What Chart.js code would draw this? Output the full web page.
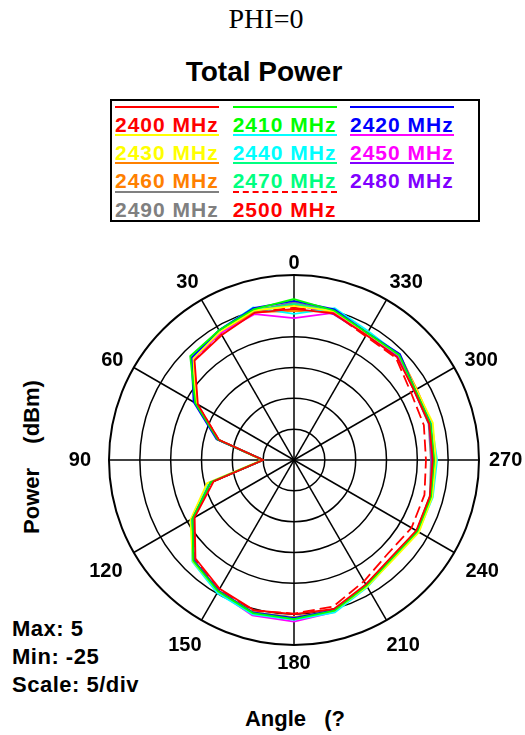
<!DOCTYPE html>
<html>
<head>
<meta charset="utf-8">
<script src="https://cdn.jsdelivr.net/npm/chart.js@4.4.0/dist/chart.umd.min.js"></script>
<style>
  html, body { margin: 0; padding: 0; background: #fff; }
  body { position: relative; width: 525px; height: 735px; overflow: hidden; font-family: "Liberation Sans", Arial, sans-serif; }
  .txt { position: absolute; white-space: pre; font-weight: bold; color: #000; }
  #phi { left: 266px; top: 5px; font: 28px/28px "Liberation Serif", "Times New Roman", serif; transform: translateX(-50%); position: absolute; }
  #title { left: 264px; top: 58px; font-size: 28px; line-height: 28px; transform: translateX(-50%); }
  #legend-box { position: absolute; left: 110px; top: 99px; width: 370px; height: 123px; border: 2px solid #000; box-sizing: border-box; }
  .leg { position: absolute; width: 104px; }
  .leg .line { height: 0; border-top: 2px solid; }
  .leg .lbl { position: absolute; left: 0; top: 8px; font-weight: bold; font-size: 21px; line-height: 21px; letter-spacing: 1px; white-space: pre; }
  #ylabel { left: 32px; top: 457px; font-size: 22px; line-height: 22px; word-spacing: 6px; transform: translate(-50%, -50%) rotate(-90deg); }
  #xlabel { left: 295px; top: 708px; font-size: 22px; line-height: 22px; word-spacing: 3px; transform: translateX(-50%); }
  .info { left: 12px; font-size: 22px; line-height: 22px; letter-spacing: 0.5px; }
  #polar { position: absolute; left: 34px; top: 249px; }
</style>
</head>
<body>
<div id="phi">PHI=0</div>
<div id="title" class="txt">Total Power</div>
<div id="legend-box"></div>
<div id="ylabel" class="txt">Power  (dBm)</div>
<div id="xlabel" class="txt">Angle  (?</div>
<div class="txt info" style="top:618px">Max: 5</div>
<div class="txt info" style="top:646px">Min: -25</div>
<div class="txt info" style="top:674px">Scale: 5/div</div>
<canvas id="polar" width="520" height="429"></canvas>

<script>
// angles in degrees, counter-clockwise from the top
const angles = [0, 15, 30, 45, 60, 75, 90, 105, 120, 135, 150, 165, 180, 195, 210, 225, 240, 255, 270, 285, 300, 315, 330, 345];

const freqLabels = ["2400 MHz", "2410 MHz", "2420 MHz", "2430 MHz", "2440 MHz", "2450 MHz", "2460 MHz", "2470 MHz", "2480 MHz", "2490 MHz", "2500 MHz"];
const colors = ["#ff0000", "#00ff00", "#0000ff", "#ffff00", "#00ffff", "#ff00ff", "#ff8000", "#00ff80", "#8000ff", "#808080", "#ff0000"];
const dashed = [false, false, false, false, false, false, false, false, false, false, true];

// power in dBm, one value per angle
const mhz2400 = [-0.5, -0.3, -1.6, -2.2, -7.0, -12.4, -20.0, -11.5, -6.4, -2.4, -0.9, 0.2, 0.0, 0.0, -1.7, -2.7, -2.1, -2.2, -2.5, -2.3, -2.5, -1.4, -1.6, -0.4];
const mhz2410 = [1.1, 0.3, -0.7, -1.2, -6.5, -12.2, -20.0, -11.0, -6.0, -1.9, -0.4, 0.7, 0.8, 0.3, -1.5, -2.5, -1.9, -2.0, -2.3, -2.1, -2.3, -0.9, -1.2, 0.1];
const mhz2420 = [0.8, 0.5, -0.7, -1.5, -6.2, -12.0, -20.0, -11.0, -6.0, -2.0, -0.5, 0.6, 0.6, 0.2, -1.6, -2.6, -2.0, -2.1, -2.4, -2.1, -2.3, -0.7, -1.2, 0.3];
const mhz2430 = [0.0, 0.1, -1.0, -1.8, -6.7, -12.3, -19.8, -10.4, -5.6, -1.8, -0.4, 0.6, 0.6, 0.3, -1.3, -2.2, -1.6, -1.8, -2.0, -1.7, -2.1, -0.9, -1.3, 0.0];
const mhz2440 = [-1.3, 0.6, -0.7, -1.7, -6.6, -12.2, -20.0, -10.6, -5.8, -1.7, -0.1, 0.9, 0.9, 0.6, -1.2, -2.3, -1.7, -1.7, -1.8, -1.9, -2.2, -0.9, -0.9, 0.5];
const mhz2450 = [-2.0, -0.5, -1.2, -1.9, -6.8, -12.3, -20.0, -10.8, -5.9, -1.9, -0.3, 1.1, 1.2, 0.5, -1.5, -2.5, -1.9, -2.0, -2.4, -2.2, -2.4, -1.0, -1.4, -0.3];
const mhz2460 = [-0.8, -0.2, -1.1, -1.8, -6.7, -12.3, -20.0, -11.0, -6.1, -2.0, -0.5, 0.6, 0.5, 0.2, -1.6, -2.5, -1.9, -2.0, -2.4, -1.9, -2.0, -0.8, -1.3, -0.1];
const mhz2470 = [0.3, 0.1, -1.0, -1.7, -6.7, -12.3, -20.0, -10.9, -6.0, -1.9, -0.3, 0.8, 0.8, 0.3, -1.4, -2.4, -1.8, -1.9, -2.2, -2.0, -2.3, -1.0, -1.3, 0.0];
const mhz2480 = [0.3, 0.0, -1.1, -1.8, -6.6, -12.2, -20.0, -11.0, -6.0, -1.8, -0.4, 0.7, 0.6, 0.2, -1.6, -2.6, -2.0, -2.1, -2.6, -2.3, -2.5, -1.2, -1.5, -0.5];
const mhz2490 = [0.55, 0.1, -1.0, -1.8, -6.7, -12.3, -20.0, -11.0, -6.1, -2.0, -0.5, 0.6, 0.6, 0.2, -1.6, -2.6, -2.0, -2.2, -2.8, -2.4, -2.5, -1.1, -1.4, 0.0];
const mhz2500 = [-0.3, -0.1, -1.3, -2.0, -6.9, -12.4, -20.0, -11.3, -6.2, -2.2, -0.7, 0.3, -0.1, -0.4, -2.3, -3.5, -3.0, -3.1, -3.6, -3.2, -3.1, -1.6, -1.8, -0.3];

const series = [mhz2400, mhz2410, mhz2420, mhz2430, mhz2440, mhz2450, mhz2460, mhz2470, mhz2480, mhz2490, mhz2500];

// radar goes clockwise, the plot goes counter-clockwise: 0, 345, 330 ... 15
const order = angles.map((a, i) => (angles.length - i) % angles.length);
const chartLabels = order.map((i) => String(angles[i]));

// legend: line sample above each label, 3 columns
const legendBox = document.getElementById("legend-box");
const colX = [3, 120.7, 238];
const rowY = [4.7, 33, 61.3, 90];
freqLabels.forEach((name, k) => {
  const div = document.createElement("div");
  div.className = "leg";
  div.style.left = colX[k % 3] + "px";
  div.style.top = rowY[Math.floor(k / 3)] + "px";
  div.innerHTML = `<div class="line" style="border-top-color:${colors[k]};border-top-style:${dashed[k] ? "dashed" : "solid"}"></div>
    <div class="lbl" style="color:${colors[k]}">${name}</div>`;
  legendBox.appendChild(div);
});

// per label tweaks so the angle numbers sit where the original puts them
const labelPad = { "0": 0, "180": 6, "90": 18, "270": 10, "60": 12, "300": 12, "120": 13, "240": 13, "150": 0, "210": 0 };
const labelLineHeight = { "60": 0.1, "300": 0.1, "150": 2.5, "210": 2.5 };

new Chart(document.getElementById("polar").getContext("2d"), {
  type: "radar",
  data: {
    labels: chartLabels,
    datasets: series.map((vals, k) => ({
      label: freqLabels[k],
      data: order.map((i) => vals[i]),
      borderColor: colors[k],
      borderWidth: 1.8,
      borderDash: dashed[k] ? [12, 5] : [],
      fill: false,
      pointRadius: 0,
      tension: 0,
    })),
  },
  options: {
    responsive: false,
    maintainAspectRatio: false,
    animation: false,
    layout: { padding: 0 },
    plugins: { legend: { display: false }, tooltip: { enabled: false } },
    scales: {
      r: {
        min: -25,
        max: 5,
        ticks: { stepSize: 5, display: false },
        grid: { circular: true, color: "#000", lineWidth: (ctx) => (ctx.index === 6 ? 2 : 1.5) },
        angleLines: { color: "#000", lineWidth: (ctx) => (ctx.index % 2 === 0 ? 1.5 : 0) },
        pointLabels: {
          color: "#000",
          font: (ctx) => ({
            family: "'Liberation Sans', Arial, sans-serif",
            size: 20,
            weight: "bold",
            lineHeight: labelLineHeight[chartLabels[ctx.index]] || 1.2,
          }),
          callback: (label) => (Number(label) % 30 === 0 ? label : ""),
          padding: (ctx) => {
            const a = chartLabels[ctx.index];
            if (Number(a) % 30 !== 0) return 0;
            return a in labelPad ? labelPad[a] : 6;
          },
        },
      },
    },
  },
});
</script>
</body>
</html>
